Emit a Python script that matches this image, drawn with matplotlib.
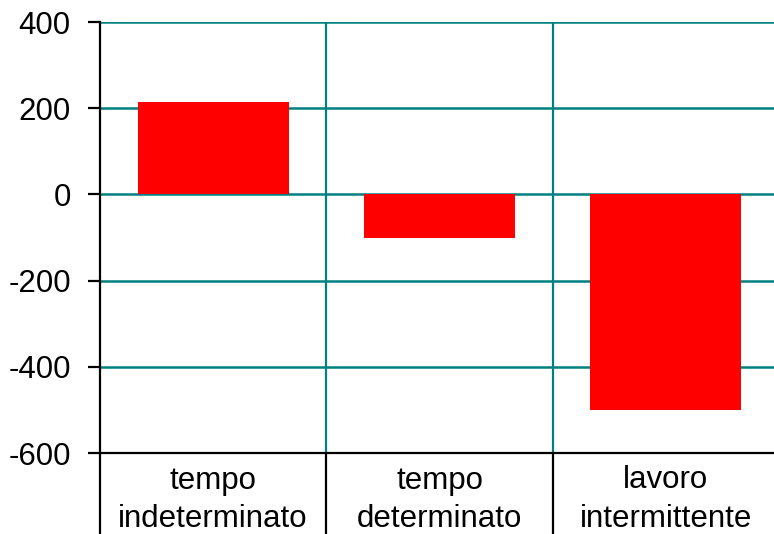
import numpy as np
import matplotlib.pyplot as plt

plt.rcParams['font.family'] = ['Liberation Sans', 'DejaVu Sans']
plt.rcParams['axes.unicode_minus'] = False

# dati
categorie = ['tempo\nindeterminato', 'tempo\ndeterminato', 'lavoro\nintermittente']
valori = [215, -100, -500]

fig = plt.figure(figsize=(7.74, 5.34), dpi=100)
ax = fig.add_axes([100 / 774, (534 - 453) / 534, 679 / 774, 431 / 534])

x = np.arange(len(categorie))
ax.bar(x, valori, width=0.667, color='#ff0000', zorder=3)

ax.set_xlim(-0.5, len(categorie) - 0.5)
ax.set_ylim(-600, 400)
ax.set_yticks(np.arange(-600, 401, 200))

# griglia
for y in np.arange(-400, 401, 200):
    ax.axhline(y, color='#008080', lw=1.8, zorder=1)
for xv in x[:-1] + 0.5:
    ax.axvline(xv, color='#008080', lw=1.6, zorder=1)

ax.spines['top'].set_visible(False)
ax.spines['right'].set_visible(False)
ax.spines['left'].set_linewidth(1.6)
ax.spines['bottom'].set_linewidth(1.6)

# etichette categorie
ax.set_xticks(x)
ax.set_xticklabels(categorie, fontsize=22.5, linespacing=1.36)
ax.tick_params(axis='x', which='major', length=0, pad=9)
ax.set_xticks(np.arange(-0.5, len(categorie), 1.0), minor=True)
ax.tick_params(axis='x', which='minor', length=60, width=1.6, color='black', direction='out')

ax.tick_params(axis='y', labelsize=22.5, length=9, width=1.6, pad=12)

fig.savefig('out.png', dpi=100)
